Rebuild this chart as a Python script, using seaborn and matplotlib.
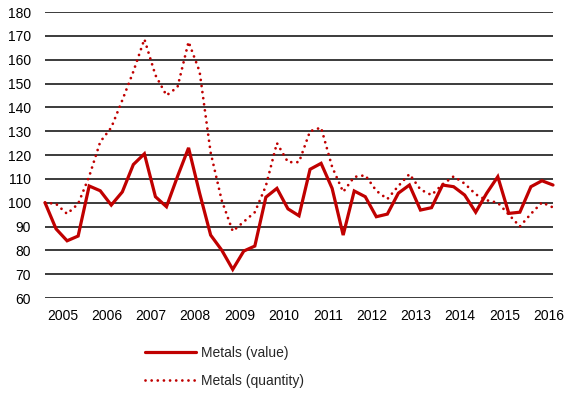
import numpy as np
import pandas as pd
import matplotlib
matplotlib.use("Agg")
import matplotlib.pyplot as plt
import seaborn as sns
from matplotlib.lines import Line2D

# ---- data (quarterly, 2005 Q1 .. 2016 Q3) ----
years = [str(y) for y in range(2005, 2017)]
metals_value = [100, 89, 84, 86, 107, 105, 99, 104.5, 116, 120.5, 102.5, 98.3,
                111, 123, 104, 86.4, 80.1, 72, 79.7, 81.8, 102.3, 106, 97.4, 94.5,
                114, 116.5, 106, 86.4, 104.9, 102.5, 94.1, 95.2, 104, 107.4, 96.9, 97.9,
                107.4, 106.7, 103.2, 96, 104, 110.9, 95.5, 96, 106.7, 109.2, 107.4]
metals_quantity = [100, 99.5, 95.3, 99.5, 111, 125.5, 131.5, 143, 155, 168.6, 153.5, 145,
                   148.5, 167.5, 155, 121, 101, 88, 92, 96, 107, 125, 117, 117,
                   130, 131.5, 115, 104.5, 110.8, 111.5, 105, 101.5, 107, 112, 105.5, 103.2,
                   107.7, 111, 108, 103.5, 101, 100, 95, 90, 95.3, 100.1, 98]
y_ticks = list(range(60, 181, 10))

quarter = np.arange(len(metals_value))
df = pd.DataFrame({"q": quarter, "value": metals_value, "quantity": metals_quantity})

sns.set_style("white")
plt.rcParams["font.family"] = ["Liberation Sans", "DejaVu Sans"]

RED = "#C00000"
FS = 10
fig = plt.figure(figsize=(5.68, 3.94), dpi=100)
ax = fig.add_axes([45 / 568, 1 - 298 / 394, 508 / 568, 286 / 394])

sns.lineplot(data=df, x="q", y="value", ax=ax, color=RED, lw=2.3, clip_on=False,
             solid_joinstyle="miter")
sns.lineplot(data=df, x="q", y="quantity", ax=ax, color=RED, lw=2.0, clip_on=False,
             linestyle=(0, (0.01, 2.2)), dash_capstyle="round")

ax.set_xlim(0, len(metals_value) - 1)
ax.set_ylim(60, 180)
ax.set_yticks(y_ticks)
ax.set_yticklabels([str(t) for t in y_ticks], fontsize=FS, color="#000000")
ax.set_xticks([4 * k + 1.6 for k in range(len(years))])
ax.set_xticklabels(years, fontsize=FS, color="#000000")
ax.tick_params(axis="both", length=0)
ax.tick_params(axis="y", pad=10)
ax.tick_params(axis="x", pad=8)
ax.set_xlabel("")
ax.set_ylabel("")
ax.yaxis.grid(True, color="#1a1a1a", lw=1.2)
ax.xaxis.grid(False)
ax.set_axisbelow(True)
for s in ax.spines.values():
    s.set_visible(False)

handles = [Line2D([], [], color=RED, lw=2.3),
           Line2D([], [], color=RED, lw=2.0, linestyle=(0, (0.01, 2.2)), dash_capstyle="round")]
fig.legend(handles, ["Metals (value)", "Metals (quantity)"], loc="upper left",
           bbox_to_anchor=(145 / 568, 1 - 346 / 394), frameon=False, fontsize=FS,
           handlelength=3.7, handletextpad=0.3, labelspacing=1.0,
           borderaxespad=0, borderpad=0)

fig.savefig("out.png", dpi=100)
